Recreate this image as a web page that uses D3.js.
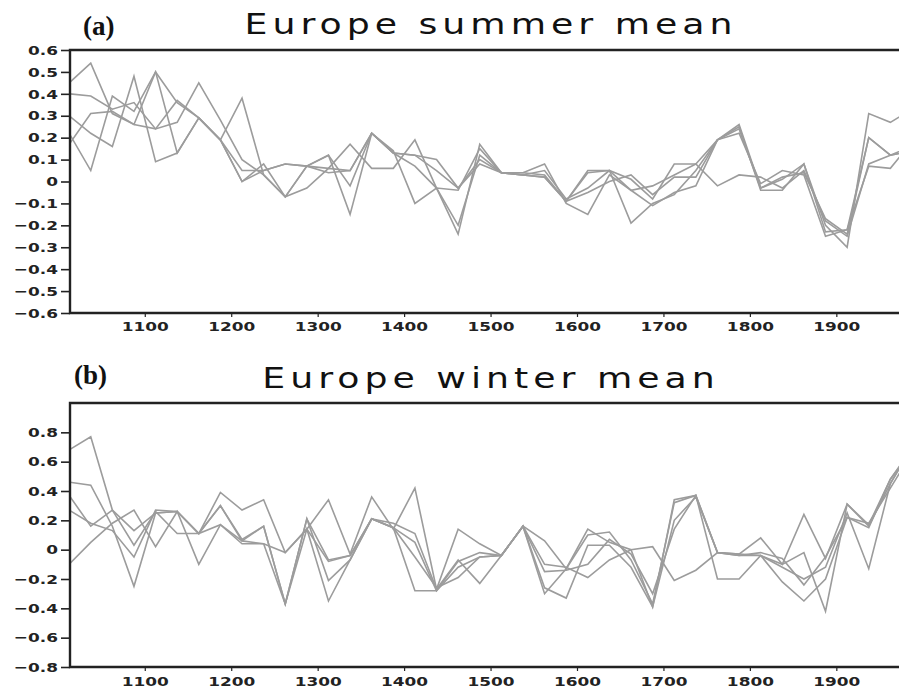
<!DOCTYPE html>
<html><head><meta charset="utf-8">
<script src="https://cdn.jsdelivr.net/npm/d3@7"></script>
<style>body{margin:0;background:#fff}svg{display:block}</style>
</head><body>
<svg id="c" width="899" height="690"></svg>
<script>
const years = [1012.5,1037.5,1062.5,1087.5,1112.5,1137.5,1162.5,1187.5,1212.5,1237.5,1262.5,1287.5,1312.5,1337.5,1362.5,1387.5,1412.5,1437.5,1462.5,1487.5,1512.5,1537.5,1562.5,1587.5,1612.5,1637.5,1662.5,1687.5,1712.5,1737.5,1762.5,1787.5,1812.5,1837.5,1862.5,1887.5,1912.5,1937.5,1962.5,1987.5];

const summerA = [0.45,0.54,0.31,0.26,0.50,0.36,0.29,0.19,0.00,0.05,0.08,0.07,0.06,0.17,0.06,0.06,0.19,-0.03,-0.24,0.17,0.04,0.03,0.02,-0.09,0.05,0.05,-0.19,-0.10,-0.06,0.05,0.19,0.26,-0.03,0.01,0.08,-0.20,-0.30,0.31,0.27,0.33];
const summerB = [0.40,0.39,0.33,0.36,0.24,0.27,0.45,0.28,0.10,0.03,-0.07,0.07,0.12,-0.15,0.22,0.13,0.07,-0.03,-0.20,0.12,0.04,0.03,0.05,-0.08,-0.03,0.05,0.01,-0.08,0.08,0.08,0.19,0.25,-0.04,-0.04,0.08,-0.23,-0.22,0.20,0.12,0.16];
const summerC = [0.30,0.22,0.16,0.48,0.09,0.13,0.29,0.19,0.38,0.03,-0.07,-0.03,0.06,0.05,0.22,0.13,0.12,0.10,-0.03,0.10,0.04,0.04,0.08,-0.10,-0.15,0.03,-0.04,-0.11,-0.05,-0.02,0.19,0.22,-0.01,0.05,0.03,-0.25,-0.22,0.07,0.06,0.18];
const summerD = [0.22,0.05,0.39,0.32,0.50,0.13,0.29,0.19,0.00,0.08,-0.07,0.07,0.12,-0.02,0.22,0.14,-0.10,-0.03,-0.04,0.15,0.04,0.03,0.02,-0.09,-0.05,0.00,0.03,-0.06,0.02,0.02,0.19,0.24,-0.03,0.02,0.04,-0.17,-0.24,0.20,0.12,0.14];
const summerE = [0.17,0.31,0.32,0.26,0.24,0.37,0.29,0.19,0.05,0.05,0.08,0.07,0.04,0.05,0.22,0.13,0.12,0.05,-0.03,0.08,0.04,0.04,0.03,-0.09,0.04,0.05,-0.04,-0.02,0.03,0.08,-0.02,0.03,0.02,-0.03,0.05,-0.18,-0.25,0.08,0.12,0.14];

const winterA = [0.68,0.77,0.27,0.13,0.25,0.26,0.11,0.39,0.27,0.34,-0.02,0.14,0.34,-0.03,0.36,0.14,0.42,-0.27,0.14,0.04,-0.04,0.16,0.06,-0.13,0.14,0.05,0.00,-0.39,0.34,0.37,-0.02,-0.03,0.08,-0.10,0.24,-0.06,0.31,0.16,0.45,0.70];
const winterB = [0.46,0.44,0.16,-0.25,0.25,0.26,0.11,0.30,0.07,0.16,-0.37,0.21,-0.07,-0.04,0.21,0.18,0.11,-0.27,-0.07,-0.23,-0.04,0.16,-0.30,-0.13,0.10,0.12,-0.07,-0.37,0.32,0.37,-0.20,-0.20,-0.04,-0.10,-0.02,-0.42,0.31,0.17,0.48,0.68];
const winterC = [-0.10,0.05,0.18,0.27,0.02,0.26,-0.10,0.17,0.04,0.04,-0.37,0.21,-0.21,-0.07,0.21,0.15,-0.05,-0.26,-0.19,-0.05,-0.04,0.16,-0.26,-0.33,0.03,0.03,-0.12,-0.39,0.20,0.36,-0.02,-0.03,-0.04,-0.22,-0.35,-0.20,0.22,0.18,0.42,0.66];
const winterD = [0.37,0.16,0.27,0.03,0.26,0.11,0.11,0.30,0.06,0.16,-0.37,0.14,-0.35,-0.07,0.21,0.15,0.05,-0.28,-0.12,-0.05,-0.04,0.16,-0.15,-0.14,-0.10,0.07,-0.03,-0.30,0.14,0.37,-0.02,-0.04,-0.04,-0.12,-0.20,-0.12,0.25,-0.13,0.45,0.70];
const winterE = [0.27,0.18,0.13,-0.05,0.27,0.26,0.11,0.17,0.06,0.04,-0.02,0.14,-0.08,-0.04,0.21,0.15,-0.28,-0.28,-0.08,-0.02,-0.04,0.16,-0.10,-0.12,-0.19,-0.07,0.00,0.02,-0.21,-0.14,-0.02,-0.04,-0.02,-0.06,-0.24,-0.05,0.22,0.15,0.48,0.69];

const xTicks = [1100,1200,1300,1400,1500,1600,1700,1800,1900];
const summerYTicks = [-0.6,-0.5,-0.4,-0.3,-0.2,-0.1,0,0.1,0.2,0.3,0.4,0.5,0.6];
const winterYTicks = [-0.8,-0.6,-0.4,-0.2,0,0.2,0.4,0.6,0.8];

const panels = [
  {tag:"(a)", title:"Europe summer mean", series:[summerA,summerB,summerC,summerD,summerE],
   yDomain:[-0.6,0.6], yTicks:summerYTicks, top:50, bottom:313, tagY:35, titleY:34, xlabY:331},
  {tag:"(b)", title:"Europe winter mean", series:[winterA,winterB,winterC,winterD,winterE],
   yDomain:[-0.8,1.0], yTicks:winterYTicks, top:403, bottom:667, tagY:384, titleY:388, xlabY:686}
];

const svg = d3.select("#c");
const left = 70, right = 899;
const x = d3.scaleLinear().domain([1013.5, 1972.5]).range([left, right]);
const fmt = d => d === 0 ? "0" : d3.format(".1f")(d);
function stretch(sel, f){
  sel.each(function(){
    const L = this.getComputedTextLength();
    d3.select(this).attr("textLength", L*f).attr("lengthAdjust","spacingAndGlyphs");
  });
}
let titleFactor = null;

panels.forEach((p, i) => {
  const y = d3.scaleLinear().domain(p.yDomain).range([p.bottom, p.top]);
  const g = svg.append("g");
  const cid = "clip" + i;
  svg.append("clipPath").attr("id", cid).append("rect")
    .attr("x", left).attr("y", p.top).attr("width", right-left).attr("height", p.bottom-p.top);

  const line = d3.line().x((d,k) => x(years[k])).y(d => y(d));
  g.append("g").attr("clip-path", `url(#${cid})`)
    .selectAll("path").data(p.series).join("path")
    .attr("d", line).attr("fill","none").attr("stroke","#9c9c9c")
    .attr("stroke-width",1.6).attr("stroke-linejoin","miter");

  // Y axis
  const ya = g.append("g").attr("transform",`translate(${left},0)`)
    .call(d3.axisLeft(y).tickValues(p.yTicks).tickFormat(fmt).tickSize(9).tickPadding(3));
  ya.select(".domain").remove();
  ya.selectAll(".tick line").attr("stroke","#222").attr("stroke-width",1.6);
  ya.selectAll(".tick text").attr("font-family","DejaVu Sans").attr("font-size",13)
    .attr("fill","#222").attr("font-weight","bold").call(stretch, 1.3);

  // X axis
  const xa = g.append("g").attr("transform",`translate(0,${p.bottom})`)
    .call(d3.axisBottom(x).tickValues(xTicks).tickFormat(d3.format("d")).tickSize(4).tickPadding(4));
  xa.select(".domain").remove();
  xa.selectAll(".tick line").attr("stroke","#222").attr("stroke-width",1.2);
  xa.selectAll(".tick text").attr("font-family","DejaVu Sans").attr("font-size",13)
    .attr("fill","#222").attr("font-weight","bold").attr("y", null).attr("dy", null)
    .attr("transform", `translate(0,${p.xlabY - p.bottom})`).call(stretch, 1.3);

  // frame: left, bottom, top
  g.append("path").attr("d", `M${right},${p.top}H${left}V${p.bottom}H${right}`)
    .attr("fill","none").attr("stroke","#222").attr("stroke-width",2.4);

  // labels
  svg.append("text").attr("x", i===0 ? 83 : 74).attr("y", p.tagY).text(p.tag)
    .attr("font-family","Liberation Serif").attr("font-weight","bold").attr("font-size",27).attr("fill","#111");
  const t = svg.append("text").attr("x", 491).attr("y", p.titleY).attr("text-anchor","middle")
    .attr("font-family","DejaVu Sans").attr("font-size",29).attr("fill","#111")
    .attr("letter-spacing", 4).text(p.title);
  const L = t.node().getComputedTextLength();
  if (titleFactor === null) titleFactor = 493 / L;
  t.attr("textLength", L*titleFactor).attr("lengthAdjust","spacingAndGlyphs");
});
</script>
</body></html>
